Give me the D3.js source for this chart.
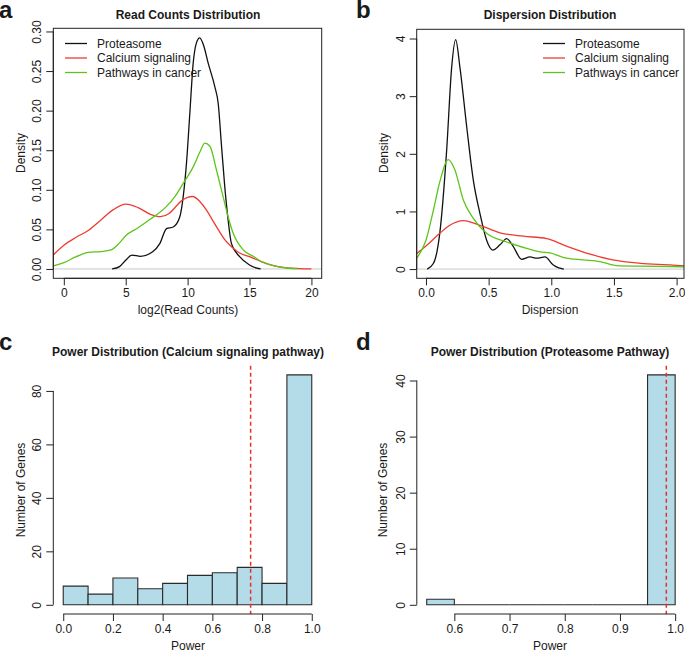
<!DOCTYPE html>
<html>
<head>
<meta charset="utf-8">
<script src="https://cdn.jsdelivr.net/npm/d3@7"></script>
<style>
  body { margin: 0; background: #fff; }
  text { font-family: "Liberation Sans", Arial, sans-serif; fill: #1a1a1a; }
</style>
</head>
<body>
<script>
// series names + colours
var seriesNames = ['Proteasome', 'Calcium signaling', 'Pathways in cancer'];
var seriesColors = ['#111111', '#EE3B30', '#5EC41A'];

// panel a: density of log2(read counts)
var protReadX = [3.9, 4.5, 5.0, 5.5, 6.2, 7.2, 7.75, 8.3, 8.83, 9.37, 9.64, 9.91, 10.18, 10.45, 10.7, 10.98, 11.3, 11.66, 12.2, 12.47, 12.74, 13.0, 13.27, 13.54, 14.2, 15.0, 15.6, 15.9];
var protReadD = [0, 0.003, 0.011, 0.0175, 0.016, 0.022, 0.032, 0.051, 0.053, 0.066, 0.091, 0.134, 0.197, 0.260, 0.285, 0.292, 0.282, 0.260, 0.230, 0.209, 0.155, 0.104, 0.062, 0.032, 0.0155, 0.005, 0.001, 0];
var calcReadX = [-0.85, 0, 1, 2, 3, 4, 5, 6, 7, 7.8, 8.5, 9, 9.5, 10, 10.4, 11, 11.5, 12, 12.5, 13, 13.7, 14, 15, 16, 17, 18, 19, 20];
var calcReadD = [0.0177, 0.030, 0.040, 0.049, 0.062, 0.075, 0.082, 0.0775, 0.069, 0.066, 0.070, 0.078, 0.086, 0.0905, 0.0915, 0.085, 0.075, 0.062, 0.049, 0.037, 0.026, 0.022, 0.0155, 0.009, 0.004, 0.0015, 0.0005, 0];
var pathReadX = [-0.85, 0, 1, 2, 3, 3.8, 4.5, 5, 6, 7, 8.3, 9, 9.64, 10.45, 11, 11.39, 11.8, 12.33, 12.87, 13.27, 13.68, 14.5, 15.3, 16, 17, 18, 18.9];
var pathReadD = [0.004, 0.008, 0.0155, 0.021, 0.022, 0.024, 0.033, 0.042, 0.052, 0.063, 0.079, 0.092, 0.108, 0.129, 0.148, 0.159, 0.155, 0.125, 0.091, 0.066, 0.045, 0.024, 0.016, 0.009, 0.004, 0.0012, 0];

// panel b: density of dispersion
var protDispX = [0.01, 0.06, 0.11, 0.165, 0.205, 0.237, 0.271, 0.325, 0.378, 0.43, 0.484, 0.532, 0.59, 0.644, 0.697, 0.763, 0.83, 0.883, 0.95, 1.016, 1.06, 1.1];
var protDispD = [0, 0.1, 0.62, 2.06, 3.5, 3.98, 3.5, 2.47, 1.54, 0.97, 0.50, 0.33, 0.42, 0.53, 0.39, 0.17, 0.21, 0.19, 0.21, 0.07, 0.02, 0];
var calcDispX = [-0.074, 0.0, 0.11, 0.19, 0.298, 0.43, 0.59, 0.776, 0.963, 1.12, 1.31, 1.49, 1.71, 1.97, 2.059];
var calcDispD = [0.27, 0.40, 0.62, 0.76, 0.84, 0.76, 0.63, 0.57, 0.53, 0.40, 0.26, 0.16, 0.10, 0.07, 0.055];
var pathDispX = [-0.074, 0.0, 0.059, 0.11, 0.178, 0.231, 0.298, 0.378, 0.484, 0.644, 0.803, 0.909, 0.989, 1.12, 1.255, 1.39, 1.52, 1.71, 2.059];
var pathDispD = [0.19, 0.50, 1.02, 1.51, 1.90, 1.72, 1.20, 0.88, 0.62, 0.47, 0.36, 0.30, 0.28, 0.19, 0.16, 0.13, 0.06, 0.05, 0.04];

// panel c: power histogram, calcium signaling
var calcPowerBreaks = [0, 0.1, 0.2, 0.3, 0.4, 0.5, 0.6, 0.7, 0.8, 0.9, 1.0];
var calcPowerCounts = [7, 4, 10, 6, 8, 11, 12, 14, 8, 86];
var calcPowerCut = 0.754;

// panel d: power histogram, proteasome
var protPowerBreaks = [0.55, 0.6, 0.65, 0.7, 0.75, 0.8, 0.85, 0.9, 0.95, 1.0];
var protPowerCounts = [1, 0, 0, 0, 0, 0, 0, 0, 41];
var protPowerCut = 0.984;

// tick labels
var readTicks = [0, 5, 10, 15, 20];
var readDensTicks = [0, 0.05, 0.10, 0.15, 0.20, 0.25, 0.30];
var dispTicks = [0, 0.5, 1.0, 1.5, 2.0];
var dispDensTicks = [0, 1, 2, 3, 4];
var calcPowerTicks = [0, 0.2, 0.4, 0.6, 0.8, 1.0];
var calcCountTicks = [0, 20, 40, 60, 80];
var protPowerTicks = [0.6, 0.7, 0.8, 0.9, 1.0];
var protCountTicks = [0, 10, 20, 30, 40];

var svg = d3.select('body').append('svg')
    .attr('width', 685)
    .attr('height', 651);

/**
 * R style axis: line only from first to last tick
 */
function rAxis(g, scale, ticks, orient, pos, fmt) {
    var axis = (orient === 'bottom' ? d3.axisBottom(scale) : d3.axisLeft(scale))
        .tickValues(ticks)
        .tickFormat(fmt)
        .tickSizeOuter(0)
        .tickSizeInner(7)
        .tickPadding(orient === 'bottom' ? 3 : 4);
    var a = g.append('g')
        .attr('transform', orient === 'bottom' ? 'translate(0,' + pos + ')' : 'translate(' + pos + ',0)')
        .call(axis);
    a.select('.domain').remove();
    a.selectAll('line').attr('stroke', '#222');
    a.selectAll('text')
        .style('font-size', '12px')
        .attr('fill', '#1a1a1a');
    // axis line between first and last tick
    var p0 = scale(ticks[0]), p1 = scale(ticks[ticks.length - 1]);
    a.append('line')
        .attr('x1', orient === 'bottom' ? p0 : 0).attr('x2', orient === 'bottom' ? p1 : 0)
        .attr('y1', orient === 'bottom' ? 0 : p0).attr('y2', orient === 'bottom' ? 0 : p1)
        .attr('stroke', '#222');
    if (orient === 'left') {
        // rotated tick labels like R
        a.selectAll('.tick text')
            .attr('x', null).attr('dy', null)
            .attr('text-anchor', 'middle')
            .attr('transform', 'translate(-12,0) rotate(-90)');
    }
    return a;
}

function panelLabel(txt, x, y) {
    svg.append('text').attr('x', x).attr('y', y)
        .style('font-size', '24px').style('font-weight', 'bold')
        .text(txt);
}

function title(txt, x, y) {
    svg.append('text').attr('x', x).attr('y', y)
        .attr('text-anchor', 'middle')
        .style('font-size', '12px').style('font-weight', 'bold')
        .text(txt);
}

function axisTitle(txt, x, y, rotate) {
    svg.append('text')
        .attr('transform', 'translate(' + x + ',' + y + ')' + (rotate ? ' rotate(-90)' : ''))
        .attr('text-anchor', 'middle')
        .style('font-size', '12px')
        .text(txt);
}

/**
 * density panel
 */
function densityPanel(opt) {
    var x = d3.scaleLinear().domain(opt.xDomain).range(opt.xRange);
    var y = d3.scaleLinear().domain(opt.yDomain).range(opt.yRange);
    var g = svg.append('g');
    var clipId = 'clip-' + opt.id;
    g.append('clipPath').attr('id', clipId)
        .append('rect')
        .attr('x', opt.xRange[0]).attr('y', opt.yRange[1])
        .attr('width', opt.xRange[1] - opt.xRange[0])
        .attr('height', opt.yRange[0] - opt.yRange[1]);
    // zero line
    g.append('line')
        .attr('x1', opt.xRange[0]).attr('x2', opt.xRange[1])
        .attr('y1', y(0)).attr('y2', y(0))
        .attr('stroke', '#c8c8c8').attr('stroke-width', 1);
    var line = d3.line()
        .x(function(d) { return x(d[0]); })
        .y(function(d) { return y(d[1]); })
        .curve(d3.curveMonotoneX);
    opt.series.forEach(function(s, i) {
        g.append('path')
            .datum(d3.zip(s[0], s[1]))
            .attr('clip-path', 'url(#' + clipId + ')')
            .attr('d', line)
            .attr('fill', 'none')
            .attr('stroke', seriesColors[i])
            .attr('stroke-width', 1.3);
    });
    // box
    g.append('rect')
        .attr('x', opt.xRange[0]).attr('y', opt.yRange[1])
        .attr('width', opt.xRange[1] - opt.xRange[0])
        .attr('height', opt.yRange[0] - opt.yRange[1])
        .attr('fill', 'none').attr('stroke', '#222');
    rAxis(g, x, opt.xTicks, 'bottom', opt.yRange[0], opt.xFmt);
    rAxis(g, y, opt.yTicks, 'left', opt.xRange[0], opt.yFmt);
    // legend
    seriesNames.forEach(function(n, i) {
        var ly = opt.legend[1] + i * 14.5;
        g.append('line')
            .attr('x1', opt.legend[0]).attr('x2', opt.legend[0] + 22)
            .attr('y1', ly - 4).attr('y2', ly - 4)
            .attr('stroke', seriesColors[i]).attr('stroke-width', 1.3);
        g.append('text')
            .attr('x', opt.legend[0] + 32).attr('y', ly)
            .style('font-size', '12px')
            .text(n);
    });
}

/**
 * histogram panel
 */
function histPanel(opt) {
    var x = d3.scaleLinear().domain(opt.xDomain).range(opt.xRange);
    var y = d3.scaleLinear().domain(opt.yDomain).range(opt.yRange);
    var g = svg.append('g');
    var bins = opt.counts.map(function(c, i) {
        return { x0: opt.breaks[i], x1: opt.breaks[i + 1], n: c };
    });
    // outline as path so empty bins still show as a line
    g.selectAll('.bar').data(bins).enter()
        .append('path')
        .attr('class', 'bar')
        .attr('d', function(d) {
            var xa = x(d.x0), xb = x(d.x1), y0 = y(0), yn = y(d.n);
            return 'M' + xa + ',' + y0 + 'L' + xa + ',' + yn + 'L' + xb + ',' + yn + 'L' + xb + ',' + y0 + 'Z';
        })
        .attr('fill', '#B4DCE8')
        .attr('stroke', '#2a2a2a')
        .attr('stroke-width', 1.1);
    // cutoff
    g.append('line')
        .attr('x1', x(opt.cut)).attr('x2', x(opt.cut))
        .attr('y1', opt.yRange[1]).attr('y2', opt.yRange[0])
        .attr('stroke', '#E8302A').attr('stroke-width', 1.5)
        .attr('stroke-dasharray', '4,3');
    rAxis(g, x, opt.xTicks, 'bottom', opt.yRange[0], opt.xFmt);
    rAxis(g, y, opt.yTicks, 'left', opt.xRange[0], opt.yFmt);
}

// a
panelLabel('a', -1, 18);
title('Read Counts Distribution', 188, 19);
densityPanel({
    id: 'a',
    xDomain: [-0.85, 20.83], xRange: [53.3, 321.7],
    yDomain: [-0.0118, 0.304], yRange: [278.3, 28.3],
    xTicks: readTicks, yTicks: readDensTicks,
    xFmt: d3.format('d'), yFmt: d3.format('.2f'),
    series: [[protReadX, protReadD], [calcReadX, calcReadD], [pathReadX, pathReadD]],
    legend: [65, 47.5]
});
axisTitle('log2(Read Counts)', 188, 314, false);
axisTitle('Density', 25, 153, true);

// b
panelLabel('b', 356, 18);
title('Dispersion Distribution', 550, 19);
densityPanel({
    id: 'b',
    xDomain: [-0.074, 2.059], xRange: [416.7, 684],
    yDomain: [-0.16, 4.16], yRange: [278.3, 29.3],
    xTicks: dispTicks, yTicks: dispDensTicks,
    xFmt: d3.format('.1f'), yFmt: d3.format('d'),
    series: [[protDispX, protDispD], [calcDispX, calcDispD], [pathDispX, pathDispD]],
    legend: [543, 47.5]
});
axisTitle('Dispersion', 550, 314, false);
axisTitle('Density', 388, 153, true);

// c
panelLabel('c', -1, 350);
title('Power Distribution (Calcium signaling pathway)', 188, 356);
histPanel({
    xDomain: [-0.04, 1.04], xRange: [53.3, 321.7],
    yDomain: [-3.44, 89.44], yRange: [614, 365.7],
    breaks: calcPowerBreaks, counts: calcPowerCounts, cut: calcPowerCut,
    xTicks: calcPowerTicks, yTicks: calcCountTicks,
    xFmt: d3.format('.1f'), yFmt: d3.format('d')
});
axisTitle('Power', 188, 650, false);
axisTitle('Number of Genes', 25, 490, true);

// d
panelLabel('d', 356, 350);
title('Power Distribution (Proteasome Pathway)', 550, 356);
histPanel({
    xDomain: [0.532, 1.018], xRange: [416.8, 685.1],
    yDomain: [-1.64, 42.64], yRange: [614, 365.7],
    breaks: protPowerBreaks, counts: protPowerCounts, cut: protPowerCut,
    xTicks: protPowerTicks, yTicks: protCountTicks,
    xFmt: d3.format('.1f'), yFmt: d3.format('d')
});
axisTitle('Power', 550, 650, false);
axisTitle('Number of Genes', 387, 490, true);
</script>
</body>
</html>
